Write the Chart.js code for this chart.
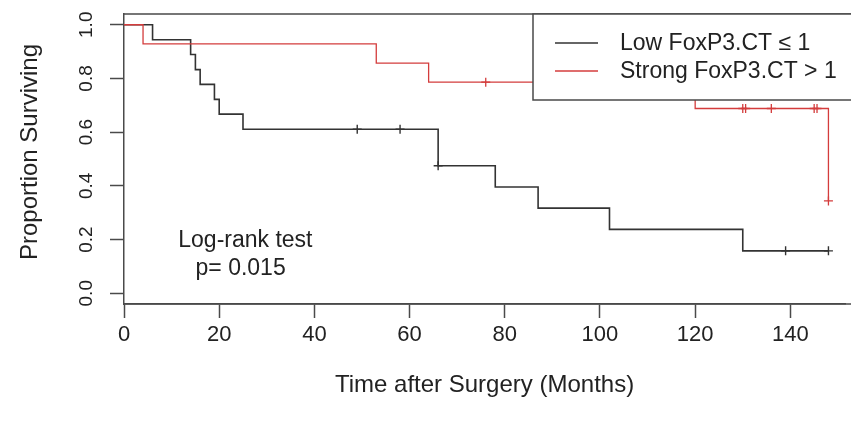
<!DOCTYPE html>
<html>
<head>
<meta charset="utf-8">
<script src="https://cdn.jsdelivr.net/npm/chart.js@4.4.1/dist/chart.umd.min.js"></script>
<style>
  body { margin: 0; background: #fff; }
</style>
</head>
<body>
<canvas id="mycanvas" width="851" height="422"></canvas>
<script>
// Kaplan-Meier steps
var lowTimes = [0, 6, 14, 15, 16, 19, 20, 25, 66, 78, 87, 102, 130, 148];
var lowSurv = [1, 0.944, 0.889, 0.833, 0.778, 0.722, 0.667, 0.611, 0.475, 0.396, 0.317, 0.238, 0.158, 0.158];
var lowCensorTimes = [49, 58, 66, 139, 148];
var lowCensorSurv = [0.611, 0.611, 0.475, 0.158, 0.158];

var strongTimes = [0, 4, 53, 64, 120, 148];
var strongSurv = [1, 0.929, 0.857, 0.786, 0.688, 0.344];
var strongCensorTimes = [76, 130, 130.6, 136, 145, 145.6, 148];
var strongCensorSurv = [0.786, 0.688, 0.688, 0.688, 0.688, 0.688, 0.344];

var groupLabels = ['Low FoxP3.CT \u2264 1', 'Strong FoxP3.CT > 1'];
var xTicks = [0, 20, 40, 60, 80, 100, 120, 140];
var yTicks = [0, 0.2, 0.4, 0.6, 0.8, 1.0];
var testText = ['Log-rank test', 'p= 0.015'];

var FONT = "'Liberation Sans', Arial, sans-serif";
var black = '#333333';
var red = '#d43c3c';
var axisCol = '#4a4a4a';

function pts(xs, ys) {
  var out = [];
  for (var i in xs) {
    out.push({x: xs[i], y: ys[i]});
  }
  return out;
}

// box, y tick labels, y title, legend and annotation
var extras = {
  id: 'extras',
  afterDatasetsDraw: function(chart) {
    var ctx = chart.ctx;
    var area = chart.chartArea;
    var xs = chart.scales.x, ys = chart.scales.y;
    var W = chart.width + 2;
    ctx.save();
    ctx.strokeStyle = axisCol;
    ctx.lineWidth = 1.5;
    ctx.beginPath();
    ctx.moveTo(area.left, area.top);
    ctx.lineTo(W, area.top);
    ctx.moveTo(area.left, area.bottom);
    ctx.lineTo(W, area.bottom);
    ctx.stroke();

    ctx.fillStyle = '#222';
    ctx.textAlign = 'center';
    ctx.textBaseline = 'middle';
    ctx.font = '19px ' + FONT;
    yTicks.forEach(function(v) {
      ctx.save();
      ctx.translate(87, ys.getPixelForValue(v));
      ctx.rotate(-Math.PI / 2);
      ctx.fillText(v.toFixed(1), 0, 0);
      ctx.restore();
    });
    ctx.font = '24px ' + FONT;
    ctx.save();
    ctx.translate(30, 152);
    ctx.rotate(-Math.PI / 2);
    ctx.fillText('Proportion Surviving', 0, 0);
    ctx.restore();

    // log-rank annotation
    ctx.font = '23px ' + FONT;
    ctx.fillText(testText[0], xs.getPixelForValue(25.5), ys.getPixelForValue(0.2) + 1);
    ctx.fillText(testText[1], xs.getPixelForValue(24.5), ys.getPixelForValue(0.1) + 2);

    // legend box
    var lx = 533, ly = area.top, lh = 86;
    ctx.fillStyle = '#fff';
    ctx.fillRect(lx, ly, W - lx, lh);
    ctx.strokeStyle = axisCol;
    ctx.beginPath();
    ctx.moveTo(W, ly);
    ctx.lineTo(lx, ly);
    ctx.lineTo(lx, ly + lh);
    ctx.lineTo(W, ly + lh);
    ctx.stroke();
    var cols = [black, red];
    ctx.font = '23px ' + FONT;
    ctx.textAlign = 'left';
    for (var i = 0; i < 2; i++) {
      var yy = ly + 29 + i * 28;
      ctx.strokeStyle = cols[i];
      ctx.lineWidth = 1.3;
      ctx.beginPath();
      ctx.moveTo(555, yy);
      ctx.lineTo(598, yy);
      ctx.stroke();
      ctx.fillStyle = '#222';
      ctx.fillText(groupLabels[i], 620, yy + 1);
    }
    ctx.restore();
  }
};

var chartdata = {
  datasets: [
    {
      label: groupLabels[1],
      data: pts(strongTimes, strongSurv),
      borderColor: red,
      borderWidth: 1.3,
      stepped: 'before',
      pointRadius: 0,
      fill: false
    },
    {
      label: 'strong censored',
      data: pts(strongCensorTimes, strongCensorSurv),
      showLine: false,
      pointStyle: 'cross',
      pointRadius: 4.5,
      borderColor: red,
      borderWidth: 1.3
    },
    {
      label: groupLabels[0],
      data: pts(lowTimes, lowSurv),
      borderColor: black,
      borderWidth: 1.6,
      stepped: 'before',
      pointRadius: 0,
      fill: false
    },
    {
      label: 'low censored',
      data: pts(lowCensorTimes, lowCensorSurv),
      showLine: false,
      pointStyle: 'cross',
      pointRadius: 4.5,
      borderColor: black,
      borderWidth: 1.4
    }
  ]
};

var ctx = document.getElementById('mycanvas');
var kmChart = new Chart(ctx, {
  type: 'line',
  data: chartdata,
  plugins: [extras],
  options: {
    responsive: false,
    animation: false,
    layout: { padding: { top: 14, right: 0, left: 0, bottom: 0 } },
    plugins: {
      legend: { display: false },
      tooltip: { enabled: false }
    },
    scales: {
      x: {
        type: 'linear',
        min: 0,
        max: 151.5,
        afterFit: function(scale) {
          scale.height = 118;
        },
        afterBuildTicks: function(scale) {
          scale.ticks = xTicks.map(function(v) { return {value: v}; });
        },
        grid: { drawOnChartArea: false, drawTicks: true, tickLength: 14, tickWidth: 1.5, tickColor: axisCol },
        border: { display: true, color: axisCol, width: 1.5 },
        ticks: { color: '#222', padding: 4, font: { family: FONT, size: 22 }, maxRotation: 0 },
        title: {
          display: true,
          text: 'Time after Surgery (Months)',
          color: '#222',
          font: { family: FONT, size: 24 },
          padding: { top: 0, bottom: 22 }
        }
      },
      y: {
        type: 'linear',
        min: -0.04,
        max: 1.04,
        afterFit: function(scale) { scale.width = 124; },
        afterBuildTicks: function(scale) {
          scale.ticks = yTicks.map(function(v) { return {value: v}; });
        },
        grid: { drawOnChartArea: false, drawTicks: true, tickLength: 14, tickWidth: 1.5, tickColor: axisCol },
        border: { display: true, color: axisCol, width: 1.5 },
        ticks: { display: false }
      }
    }
  }
});
</script>
</body>
</html>
